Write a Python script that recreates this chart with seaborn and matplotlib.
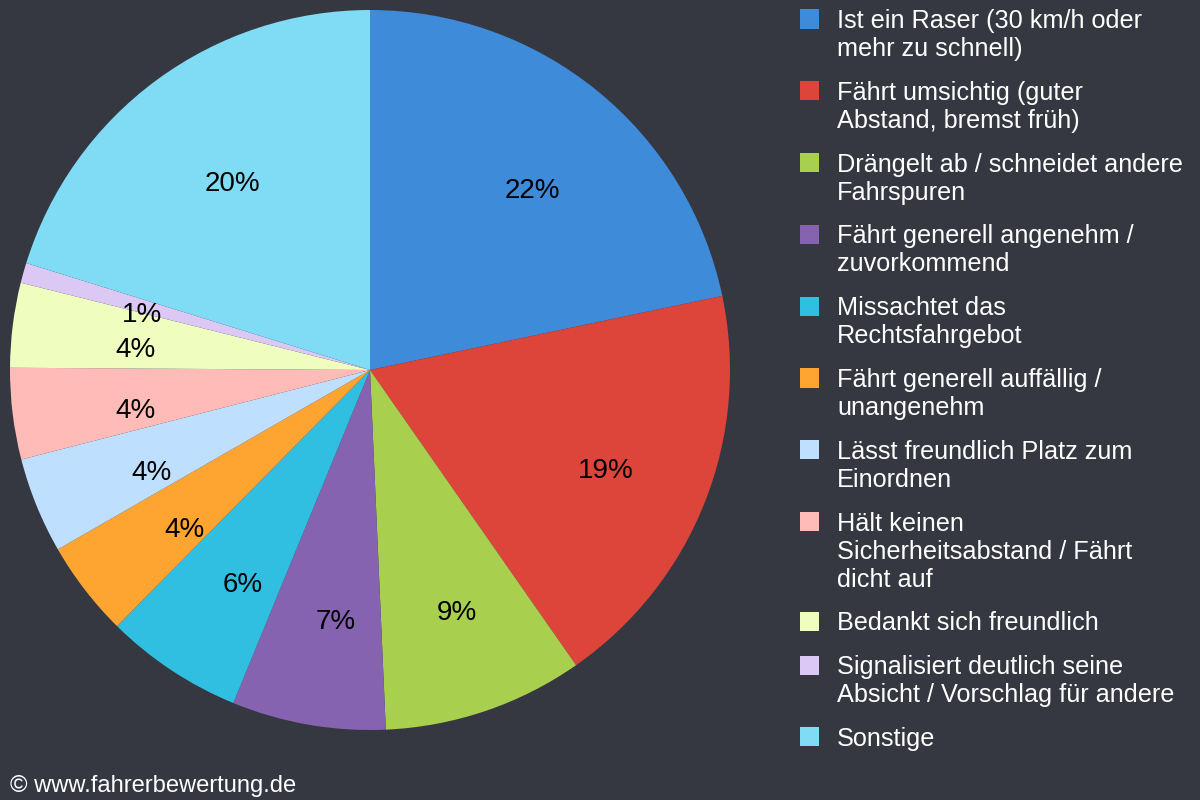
import matplotlib
matplotlib.use("Agg")
import matplotlib.pyplot as plt
import seaborn as sns
from matplotlib.patches import Rectangle
from matplotlib.transforms import ScaledTranslation

# survey answers (share in %)
labels = [
    "Ist ein Raser (30 km/h oder\nmehr zu schnell)",
    "Fährt umsichtig (guter\nAbstand, bremst früh)",
    "Drängelt ab / schneidet andere\nFahrspuren",
    "Fährt generell angenehm /\nzuvorkommend",
    "Missachtet das\nRechtsfahrgebot",
    "Fährt generell auffällig /\nunangenehm",
    "Lässt freundlich Platz zum\nEinordnen",
    "Hält keinen\nSicherheitsabstand / Fährt\ndicht auf",
    "Bedankt sich freundlich",
    "Signalisiert deutlich seine\nAbsicht / Vorschlag für andere",
    "Sonstige",
]
values = [21.7, 18.6, 9.0, 6.9, 6.2, 4.3, 4.3, 4.1, 3.8, 0.9, 20.2]
colors = ["#3e8bd9", "#dd443a", "#a8cf4e", "#8663b1", "#30bfe0", "#fea431",
          "#bfdfff", "#ffbbb7", "#effdbf", "#dbc8f5", "#80dcf5"]

BG = "#353741"

sns.set_theme(style="dark", rc={"figure.facecolor": BG, "axes.facecolor": BG})
plt.rcParams["font.family"] = ["Liberation Sans", "DejaVu Sans"]

W, H = 1200, 800
fig = plt.figure(figsize=(W / 100, H / 100), dpi=100)

# pie: centre (370, 370), radius 360 px
ax = fig.add_axes([10 / W, 70 / H, 720 / W, 720 / H])
wedges, texts, autotexts = ax.pie(
    values,
    colors=colors,
    startangle=90,
    counterclock=False,
    autopct="%.0f%%",
    pctdistance=0.68,
    wedgeprops=dict(linewidth=0, edgecolor="none"),
    textprops=dict(fontsize=20, color="black"),
)
ax.set_xlim(-1, 1)
ax.set_ylim(-1, 1)
ax.set_aspect("equal")
ax.axis("off")

# the percentage labels sit a little right of and below the wedge middle
shift = ScaledTranslation(8 / 100, -11 / 100, fig.dpi_scale_trans)
for t in autotexts:
    t.set_transform(t.get_transform() + shift)

# legend drawn by hand so the square sits on the first text line
line_h = 28
gap = 15.8
y = 19  # centre of first text line, px from top
for lab, col in zip(labels, colors):
    fig.patches.append(Rectangle((800 / W, 1 - (y + 9.5) / H), 19 / W, 19 / H,
                                 transform=fig.transFigure, facecolor=col,
                                 edgecolor="none"))
    lines = lab.split("\n")
    for j, ln in enumerate(lines):
        fig.text(837 / W, 1 - (y + 9 + j * line_h) / H, ln, fontsize=18.2,
                 color="white", ha="left", va="baseline")
    y += len(lines) * line_h + gap

fig.text(10 / W, 1 - 792 / H, "© www.fahrerbewertung.de", fontsize=17.1,
         color="white", ha="left", va="baseline")

fig.savefig("out.png", dpi=100, facecolor=BG)
